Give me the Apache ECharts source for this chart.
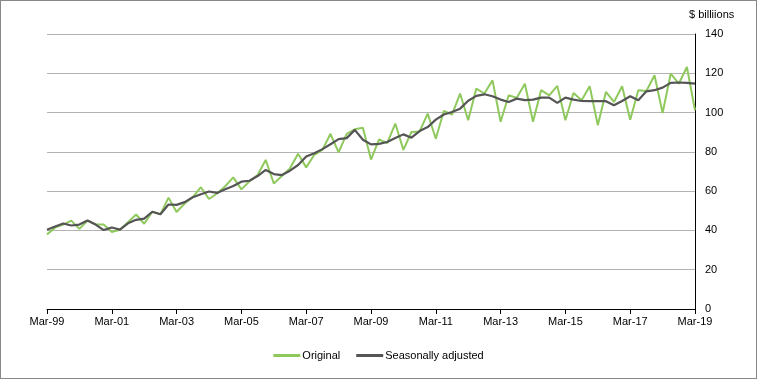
<!DOCTYPE html>
<html>
<head>
<meta charset="utf-8">
<script src="https://cdn.jsdelivr.net/npm/echarts@6/dist/echarts.min.js"></script>
<style>
html,body{margin:0;padding:0;background:#fff;}
#c{width:757px;height:379px;box-sizing:border-box;border:1px solid #888;}
</style>
</head>
<body>
<div id="c"></div>
<script>
// Quarterly categories Mar-99 .. Mar-19
const months = ["Mar","Jun","Sep","Dec"];
const categories = [];
for (let y = 1999; y <= 2019; y++) {
  for (let q = 0; q < 4; q++) {
    if (y === 2019 && q > 0) break;
    categories.push(months[q] + "-" + String(y % 100).padStart(2, "0"));
  }
}

const original = [
  38, 41.4, 43, 45, 40.8, 45, 43, 43, 39.2, 40.3,
  44.2, 48.1, 43.4, 49.5, 48.2, 56.7, 49.4, 53.7, 57, 62,
  56, 58.8, 62.5, 67, 60.9, 65, 68.2, 75.9, 63.9, 67.7,
  71.6, 79, 72.1, 78.5, 81, 89.2, 79.7, 89.2, 91.5, 92.3,
  76.1, 86.3, 84.4, 94.4, 81, 90.1, 90.4, 99.5, 86.7, 100.9,
  99, 109.7, 96.1, 112.2, 109.7, 116.4, 95.3, 108.8, 107.5, 114.7,
  95.3, 111.4, 108.8, 113.6, 96.1, 110, 106.3, 113.4, 93.6, 110.5,
  105.4, 113.4, 96.4, 111.4, 111, 119, 99.8, 119.8, 114.7, 123.2,
  101.2
];

const seasonallyAdjusted = [
  40.3, 42, 43.5, 42.5, 43, 45.1, 43, 40.2, 41.5, 40.4,
  43.6, 45.4, 46, 49.5, 48.2, 53.2, 53, 54.4, 56.9, 58.4,
  59.8, 59.1, 61, 62.6, 64.8, 65.3, 67.7, 70.8, 68.7, 68.2,
  70.4, 73.3, 77.6, 79.3, 81.4, 83.9, 86.5, 87, 91.2, 86.2,
  83.8, 84.1, 85, 87, 88.9, 87.2, 90.6, 92.6, 96.4, 99,
  100.3, 102, 106, 108.5, 109.3, 108.3, 106.6, 105.4, 107.1, 106.3,
  106.6, 107.6, 107.6, 104.9, 107.6, 106.6, 105.9, 105.8, 105.8, 105.8,
  103.7, 105.9, 108.3, 106.3, 110.8, 111.4, 112.7, 115.1, 115.3, 115.1,
  114.7
];

const seriesNames = ["Original", "Seasonally adjusted"];
const unitLabel = "$ billiions";

const chart = echarts.init(document.getElementById("c"), null, {renderer: "canvas"});
const font = "'Liberation Sans', Arial, sans-serif";
chart.setOption({
  animation: false,
  textStyle: {fontFamily: font},
  grid: {left: 46, right: 61, top: 33, bottom: 69, containLabel: false},
  graphic: [{
    type: "text", left: 688, top: 8,
    style: {text: unitLabel, font: "11px " + font, fill: "#000"}
  }],
  legend: {
    data: seriesNames,
    bottom: 12,
    left: "center",
    itemWidth: 27,
    itemHeight: 3,
    itemGap: 16,
    icon: "rect",
    textStyle: {fontSize: 11, color: "#000", fontFamily: font, padding: [0,0,0,-3]}
  },
  xAxis: {
    type: "category",
    data: categories,
    boundaryGap: false,
    axisLine: {lineStyle: {color: "#000", width: 1}},
    axisTick: {interval: 7, length: 5, lineStyle: {color: "#000"}},
    axisLabel: {interval: 7, color: "#000", fontSize: 11, margin: 7, fontFamily: font},
    splitLine: {show: false}
  },
  yAxis: {
    type: "value",
    position: "right",
    min: 0, max: 140, interval: 20,
    axisLine: {show: true, lineStyle: {color: "#000", width: 1}},
    axisTick: {show: false},
    axisLabel: {color: "#000", fontSize: 11, margin: 10, fontFamily: font},
    splitLine: {lineStyle: {color: "#b3b3b3", width: 1}}
  },
  series: [
    {
      name: seriesNames[0], type: "line", data: original,
      symbol: "none", lineStyle: {color: "#8fc95e", width: 2}, itemStyle: {color: "#8fc95e"}
    },
    {
      name: seriesNames[1], type: "line", data: seasonallyAdjusted,
      symbol: "none", lineStyle: {color: "#555555", width: 2.2}, itemStyle: {color: "#555555"}
    }
  ]
});
</script>
</body>
</html>
